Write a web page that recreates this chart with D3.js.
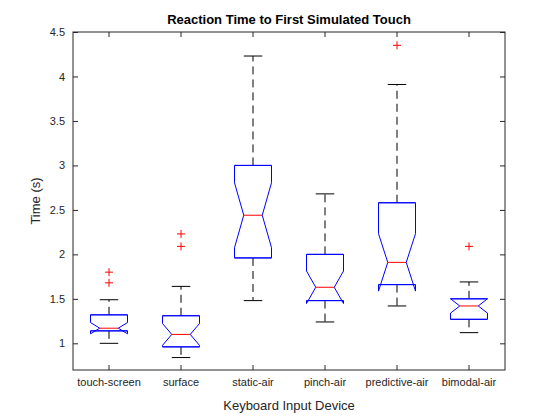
<!DOCTYPE html>
<html><head><meta charset="utf-8">
<script src="https://cdn.jsdelivr.net/npm/d3@7"></script>
<style>body{margin:0;background:#fff}text{font-family:"Liberation Sans",Arial,sans-serif}</style>
</head><body><svg id="c" width="560" height="420"></svg>
<script>
const devices = ["touch-screen","surface","static-air","pinch-air","predictive-air","bimodal-air"];
const lowWhisker = [1.00, 0.84, 1.48, 1.24, 1.42, 1.12];
const q1 = [1.14, 0.96, 1.96, 1.48, 1.66, 1.27];
const median = [1.17, 1.10, 2.44, 1.63, 1.91, 1.42];
const q3 = [1.32, 1.31, 3.00, 2.00, 2.58, 1.50];
const highWhisker = [1.49, 1.64, 4.23, 2.68, 3.91, 1.69];
const outliers = [[1.80, 1.68], [2.23, 2.09], [], [], [4.35], [2.09]];
const groupSize = 20;
const yTicks = [1, 1.5, 2, 2.5, 3, 3.5, 4, 4.5];

const svg = d3.select("#c");
const m = {l: 73, r: 505, t: 32, b: 370};
const x = d3.scaleBand().domain(devices).range([m.l, m.r]).padding(0);
const y = d3.scaleLinear().domain([0.7, 4.5]).range([m.b, m.t]);
const hw = 18.5;

// axes with inward ticks
svg.append("g").attr("transform", `translate(0,${m.b})`)
  .call(d3.axisBottom(x).tickSizeInner(-5).tickSizeOuter(0).tickPadding(8))
  .call(g => g.select(".domain").remove());
svg.append("g").attr("transform", `translate(0,${m.t})`)
  .call(d3.axisTop(x).tickSizeInner(-5).tickSizeOuter(0).tickFormat(""))
  .call(g => g.select(".domain").remove());
svg.append("g").attr("transform", `translate(${m.l},0)`)
  .call(d3.axisLeft(y).tickValues(yTicks).tickSizeInner(-5).tickSizeOuter(0).tickPadding(8).tickFormat(d3.format("")))
  .call(g => g.select(".domain").remove());
svg.append("g").attr("transform", `translate(${m.r},0)`)
  .call(d3.axisRight(y).tickValues(yTicks).tickSizeInner(-5).tickSizeOuter(0).tickFormat(""))
  .call(g => g.select(".domain").remove());
svg.selectAll(".tick text").attr("font-size", 11).attr("fill", "#262626");
svg.selectAll(".tick line").attr("stroke", "#262626");
svg.append("rect").attr("x", m.l).attr("y", m.t).attr("width", m.r - m.l).attr("height", m.b - m.t)
  .attr("fill", "none").attr("stroke", "#262626");

devices.forEach((d, i) => {
  const cx = x(d) + x.bandwidth() / 2;
  const notch = 1.57 * (q3[i] - q1[i]) / Math.sqrt(groupSize);
  const nlo = median[i] - notch, nhi = median[i] + notch;
  const g = svg.append("g");
  // whiskers
  [[q3[i], highWhisker[i]], [q1[i], lowWhisker[i]]].forEach(([a, b]) => {
    g.append("line").attr("x1", cx).attr("x2", cx).attr("y1", y(a)).attr("y2", y(b))
      .attr("stroke", "#000").attr("stroke-dasharray", "8,5");
    g.append("line").attr("x1", cx - hw / 2).attr("x2", cx + hw / 2).attr("y1", y(b)).attr("y2", y(b))
      .attr("stroke", "#000");
  });
  const pts = [[cx - hw, q1[i]], [cx - hw, nlo], [cx - hw / 2, median[i]], [cx - hw, nhi], [cx - hw, q3[i]],
    [cx + hw, q3[i]], [cx + hw, nhi], [cx + hw / 2, median[i]], [cx + hw, nlo], [cx + hw, q1[i]]];
  g.append("path").attr("d", d3.line().x(p => p[0]).y(p => y(p[1]))(pts) + "Z")
    .attr("fill", "none").attr("stroke", "#0000ff");
  [q1[i], q3[i]].forEach(v => g.append("line").attr("x1", cx - hw).attr("x2", cx + hw)
    .attr("y1", y(v)).attr("y2", y(v)).attr("stroke", "#0000ff"));
  g.append("line").attr("x1", cx - hw / 2).attr("x2", cx + hw / 2)
    .attr("y1", y(median[i])).attr("y2", y(median[i])).attr("stroke", "#ff0000");
  outliers[i].forEach(v => {
    g.append("path").attr("d", `M${cx - 4},${y(v)}H${cx + 4}M${cx},${y(v) - 4}V${y(v) + 4}`)
      .attr("stroke", "#ff0000");
  });
});

svg.append("text").attr("x", (m.l + m.r) / 2).attr("y", 24).attr("text-anchor", "middle")
  .attr("font-size", 13).attr("font-weight", "bold").text("Reaction Time to First Simulated Touch");
svg.append("text").attr("x", (m.l + m.r) / 2).attr("y", 410).attr("text-anchor", "middle")
  .attr("font-size", 13).attr("fill", "#262626").text("Keyboard Input Device");
svg.append("text").attr("transform", `translate(40,${(m.t + m.b) / 2}) rotate(-90)`).attr("text-anchor", "middle")
  .attr("font-size", 13).attr("fill", "#262626").text("Time (s)");
</script></body></html>
